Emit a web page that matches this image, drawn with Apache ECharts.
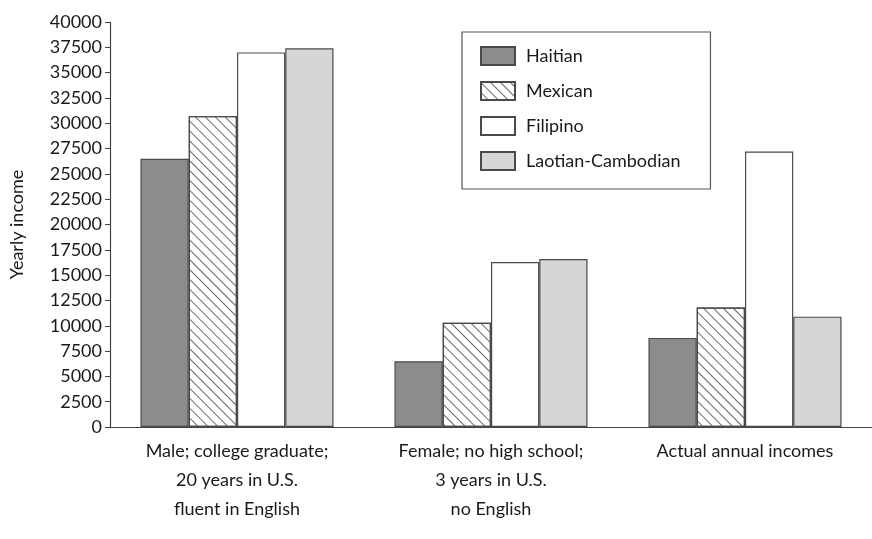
<!DOCTYPE html>
<html>
<head>
<meta charset="utf-8">
<script src="https://cdn.jsdelivr.net/npm/echarts@6/dist/echarts.min.js"></script>
<style>
  html, body { margin: 0; padding: 0; background: #fff; }
  #chart { width: 872px; height: 539px; }
</style>
</head>
<body>
<div id="chart"></div>
<script>
// groups along the x axis
const categories = [
  'Male; college graduate;\n20 years in U.S.\nfluent in English',
  'Female; no high school;\n3 years in U.S.\nno English',
  'Actual annual incomes'
];

// yearly income per group
const haitian = [26500, 6500, 8800];
const mexican = [30700, 10300, 11800];
const filipino = [37000, 16300, 27200];
const laotianCambodian = [37400, 16600, 10900];

const yTicks = { min: 0, max: 40000, interval: 2500 };

const chart = echarts.init(document.getElementById('chart'));
const font = 'Lato, "Open Sans", sans-serif';
const edge = '#4a4a4a';

const option = {
  backgroundColor: '#ffffff',
  textStyle: { fontFamily: font },
  legend: {
    orient: 'vertical',
    left: 462,
    top: 32,
    padding: [14, 30, 18, 18],
    icon: 'rect',
    itemWidth: 34,
    itemHeight: 18,
    itemGap: 15,
    borderColor: '#555',
    borderWidth: 1.2,
    textStyle: { fontSize: 18, color: '#1a1a1a', fontFamily: font, padding: [0, 0, 0, 6] },
    data: ['Haitian', 'Mexican', 'Filipino', 'Laotian-Cambodian']
  },
  grid: { left: 108, width: 786, top: 22, bottom: 112 },
  xAxis: {
    type: 'category',
    data: categories,
    axisLine: { lineStyle: { color: '#444', width: 1.2 } },
    axisTick: { show: false },
    axisLabel: {
      color: '#1a1a1a',
      fontSize: 18,
      lineHeight: 29,
      margin: 10,
      fontFamily: font,
      interval: 0
    }
  },
  yAxis: {
    type: 'value',
    min: yTicks.min,
    max: yTicks.max,
    interval: yTicks.interval,
    name: 'Yearly income',
    nameLocation: 'middle',
    nameGap: 84,
    nameTextStyle: { fontSize: 18, color: '#1a1a1a', fontFamily: font },
    splitLine: { show: false },
    axisLine: { show: true, lineStyle: { color: '#444', width: 1.2 } },
    axisTick: { show: true, length: 5, lineStyle: { color: '#444' } },
    axisLabel: {
      color: '#1a1a1a',
      fontSize: 18,
      margin: 8,
      fontFamily: font,
      formatter: (v) => String(v)
    }
  },
  series: [
    {
      name: 'Haitian',
      type: 'bar',
      data: haitian,
      barGap: '0%',
      barCategoryGap: '24%',
      itemStyle: { color: '#8c8c8c', borderColor: edge, borderWidth: 1.2 }
    },
    {
      name: 'Mexican',
      type: 'bar',
      data: mexican,
      itemStyle: {
        color: '#ffffff',
        borderColor: edge,
        borderWidth: 1.2,
        decal: {
          symbol: 'rect',
          color: '#6a6a6a',
          dashArrayX: [1, 0],
          dashArrayY: [1, 6],
          rotation: Math.PI / 4
        }
      }
    },
    {
      name: 'Filipino',
      type: 'bar',
      data: filipino,
      itemStyle: { color: '#ffffff', borderColor: edge, borderWidth: 1.2 }
    },
    {
      name: 'Laotian-Cambodian',
      type: 'bar',
      data: laotianCambodian,
      itemStyle: { color: '#d6d6d6', borderColor: edge, borderWidth: 1.2 }
    }
  ]
};

chart.setOption(option);
window.addEventListener('resize', () => chart.resize());
</script>
</body>
</html>
